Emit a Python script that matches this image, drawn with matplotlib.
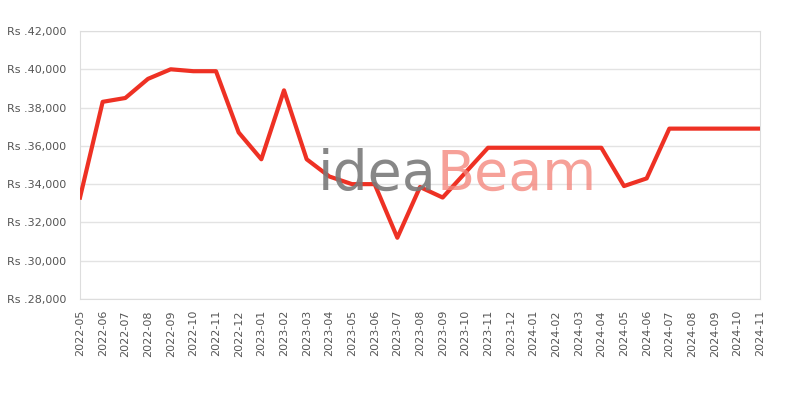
import matplotlib
matplotlib.use("Agg")
import matplotlib.pyplot as plt
from matplotlib.ticker import FuncFormatter

# monthly prices
months = ["2022-05", "2022-06", "2022-07", "2022-08", "2022-09", "2022-10",
          "2022-11", "2022-12", "2023-01", "2023-02", "2023-03", "2023-04",
          "2023-05", "2023-06", "2023-07", "2023-08", "2023-09", "2023-10",
          "2023-11", "2023-12", "2024-01", "2024-02", "2024-03", "2024-04",
          "2024-05", "2024-06", "2024-07", "2024-08", "2024-09", "2024-10",
          "2024-11"]
prices = [33300, 38300, 38500, 39500, 40000, 39900,
          39900, 36700, 35300, 38900, 35300, 34400,
          34000, 34000, 31200, 33850, 33300, 34600,
          35900, 35900, 35900, 35900, 35900, 35900,
          33900, 34300, 36900, 36900, 36900, 36900,
          36900]
y_ticks = [28000, 30000, 32000, 34000, 36000, 38000, 40000, 42000]

fig = plt.figure(figsize=(8, 4), dpi=100)
ax = fig.add_axes([0.1, 0.2525, 0.85, 0.67])

# watermark
fig.text(0.397, 0.525, "idea", fontsize=40, color="#7a7a7a", alpha=0.9,
         fontfamily="DejaVu Sans", zorder=0)
fig.text(0.545, 0.525, "Beam", fontsize=40, color="#f4887f", alpha=0.8,
         fontfamily="DejaVu Sans", zorder=0)

x = list(range(len(months)))
ax.plot(x, prices, color="#ee3124", linewidth=3, zorder=3)

ax.set_xlim(0, len(months) - 1)
ax.set_ylim(28000, 42000)
ax.set_xticks(x)
ax.set_xticklabels(months, rotation=90, fontsize=8, color="#555555")
ax.set_yticks(y_ticks)
ax.yaxis.set_major_formatter(FuncFormatter(lambda v, p: "Rs .{:,.0f}".format(v)))
ax.tick_params(axis="y", labelsize=8, labelcolor="#555555", length=0, pad=10)
ax.tick_params(axis="x", length=0, pad=8)
ax.grid(axis="y", color="#e3e3e3", linewidth=1)
ax.set_axisbelow(True)
ax.patch.set_alpha(0)
for s in ax.spines.values():
    s.set_color("#dddddd")

fig.savefig("out.png", dpi=100)
